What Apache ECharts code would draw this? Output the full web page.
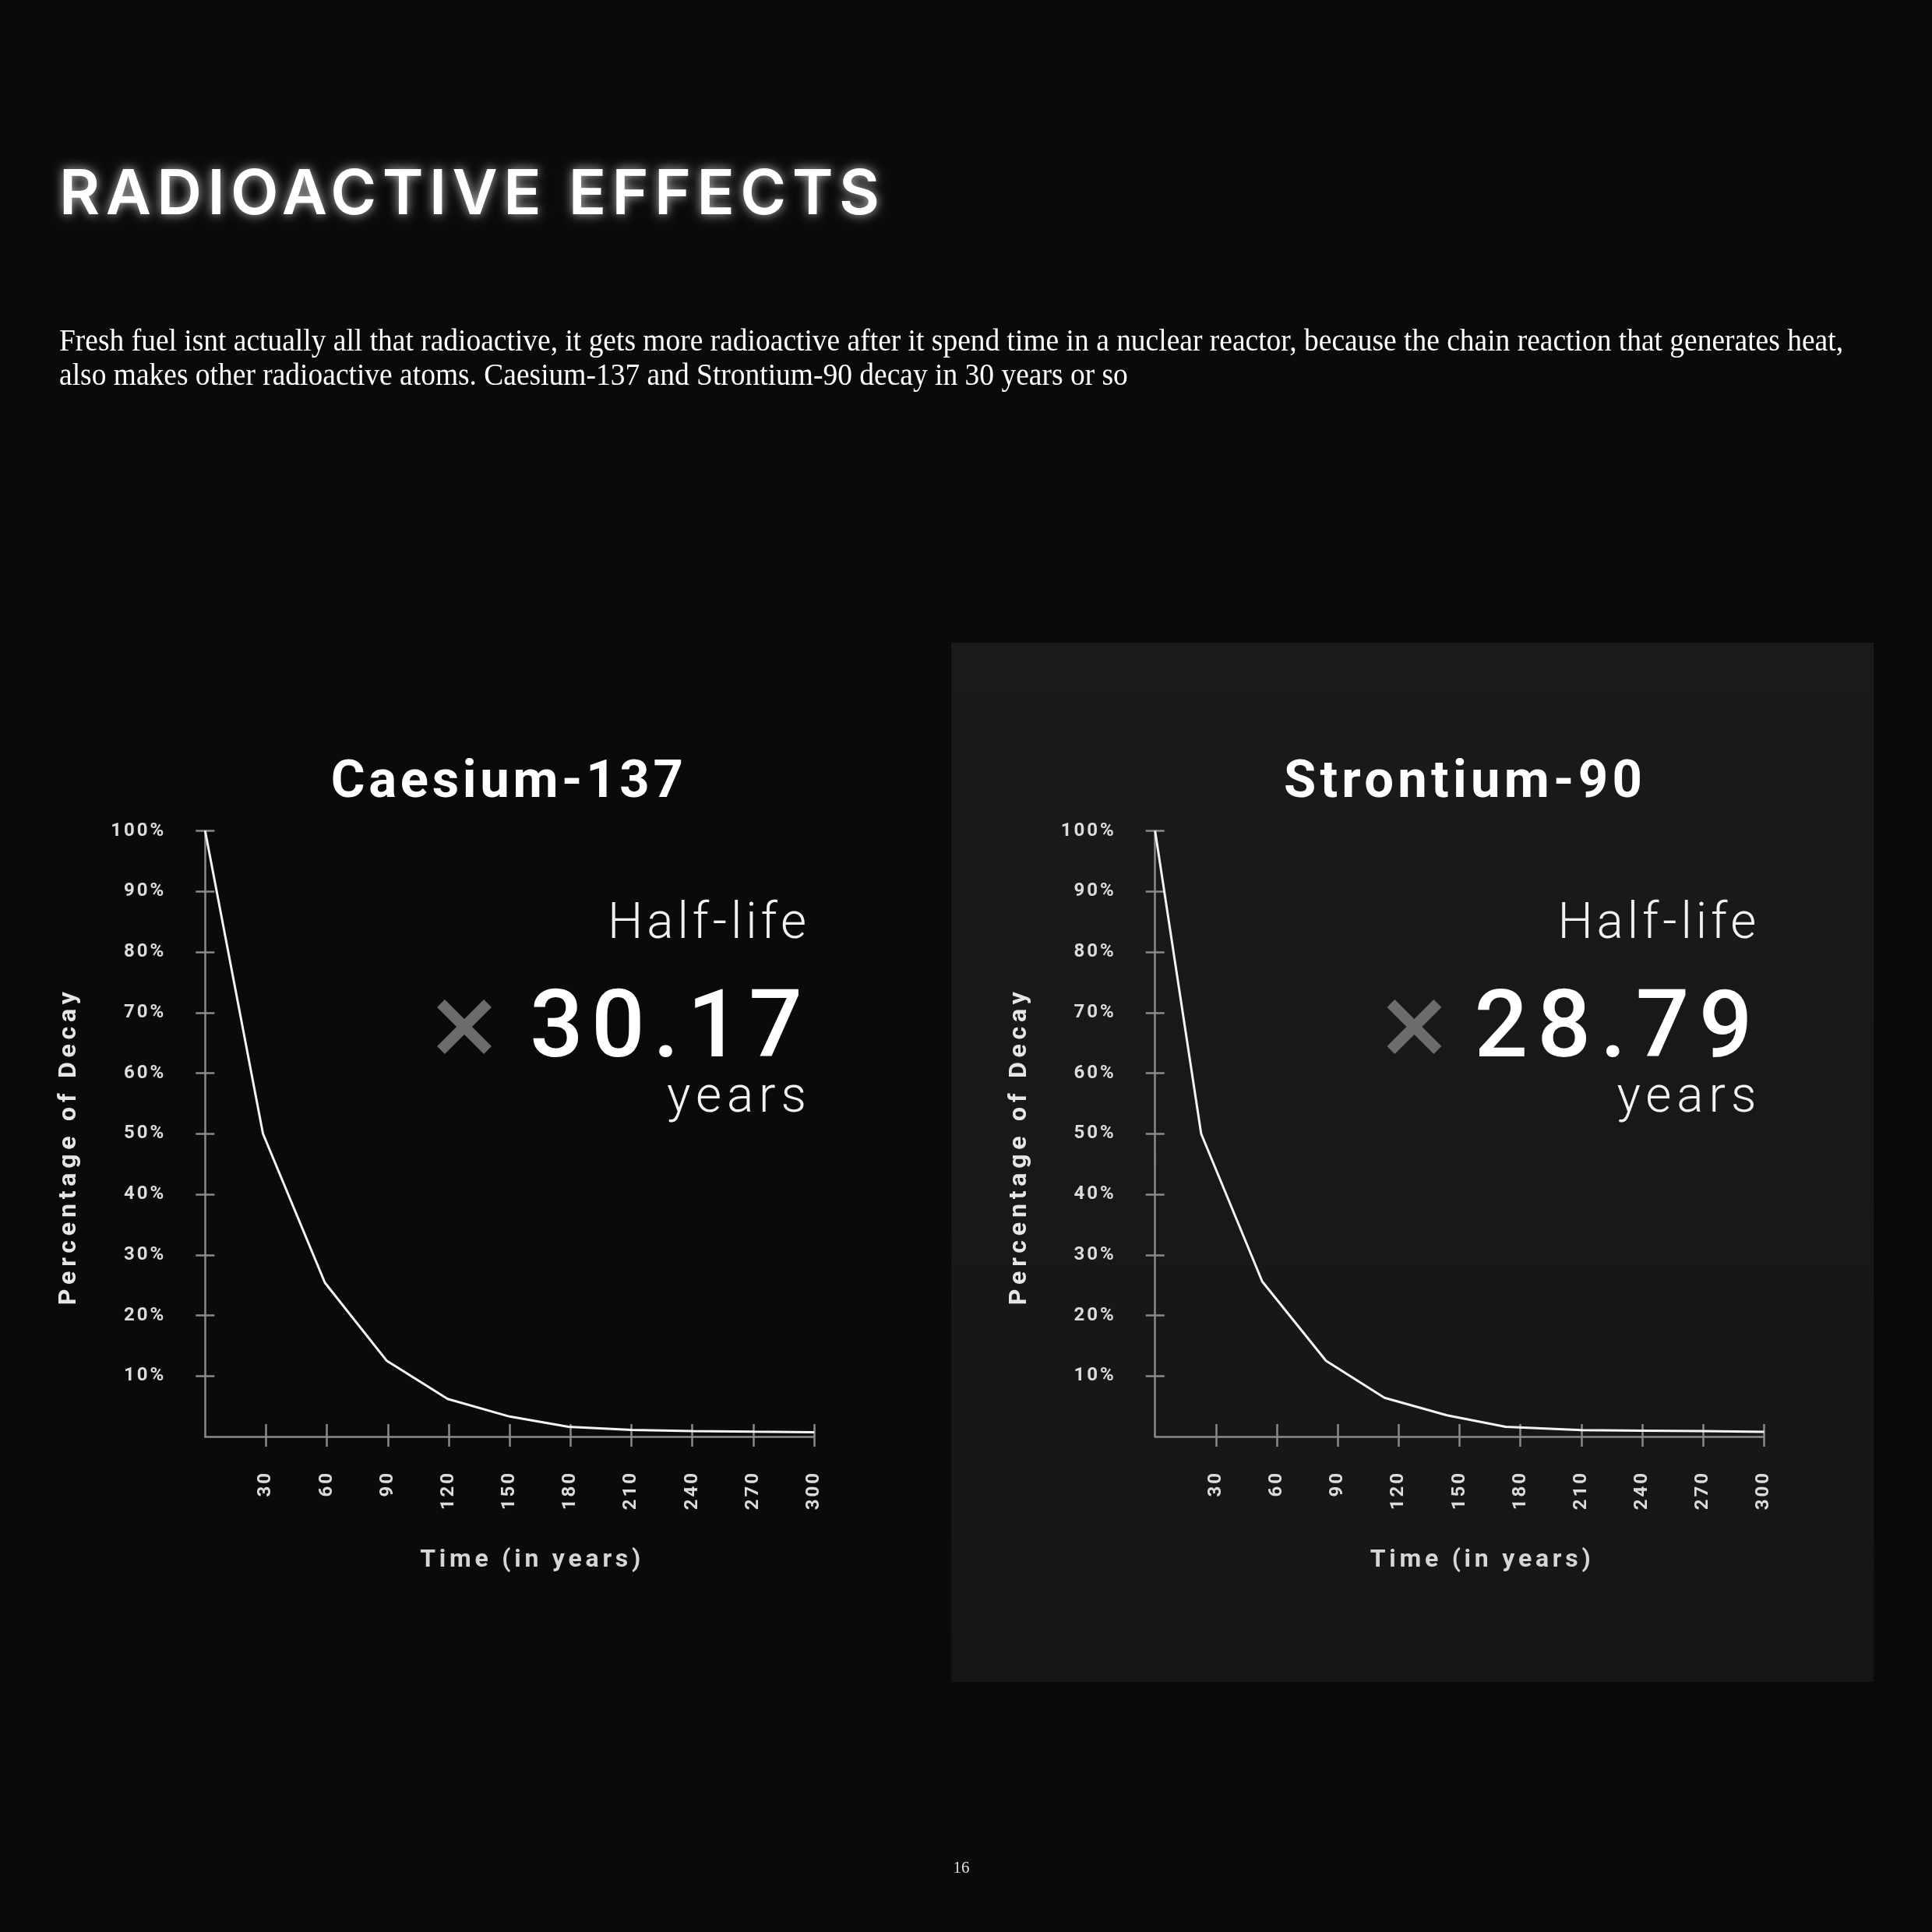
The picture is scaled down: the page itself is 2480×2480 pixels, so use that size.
<!DOCTYPE html>
<html>
<head>
<meta charset="utf-8">
<title>Radioactive Effects</title>
<script src="https://cdn.jsdelivr.net/npm/echarts@6/dist/echarts.min.js"></script>
<style>
  html, body { margin: 0; padding: 0; background: #0a0a0a; }
  #page { width: 2480px; height: 2480px; }
</style>
</head>
<body>
<div id="page"></div>
<script>
// ---- content ---------------------------------------------------------------
const heading = 'RADIOACTIVE EFFECTS';
const introLines = [
  'Fresh fuel isnt actually all that radioactive, it gets more radioactive after it spend time in a nuclear reactor, because the chain reaction that generates heat,',
  'also makes other radioactive atoms. Caesium-137 and Strontium-90 decay in 30 years or so'
];
const pageNumber = '16';

const isotopes = ['Caesium-137', 'Strontium-90'];
const halfLives = ['30.17', '28.79'];
const halfLifeLabel = 'Half-life';
const unitLabel = 'years';
const xAxisTitle = 'Time (in years)';
const yAxisTitle = 'Percentage of Decay';

const timeTicks = [30, 60, 90, 120, 150, 180, 210, 240, 270, 300];
const percentTicks = [10, 20, 30, 40, 50, 60, 70, 80, 90, 100];

const caesiumYears = [0, 28.5, 59, 89.5, 119.5, 150, 179, 210, 240, 270, 300];
const caesiumPercent = [100, 50, 25.4, 12.5, 6.2, 3.3, 1.6, 1.1, 0.9, 0.8, 0.72];

const strontiumYears = [0, 22.7, 52.8, 84.2, 113, 143.8, 172.7, 210, 240, 270, 300];
const strontiumPercent = [100, 50, 25.6, 12.5, 6.4, 3.5, 1.6, 1.07, 0.98, 0.9, 0.77];

// ---- fonts & letter spacing ------------------------------------------------
const UI = 'Roboto';
const FONT_HEADING = '600 80px Inter';
const FONT_INTRO = '40px "Liberation Serif"';
const FONT_ISOTOPE = 'bold 67px ' + UI;
const FONT_HALF = '300 64px ' + UI;
const FONT_VALUE = '500 121px ' + UI;
const FONT_UNIT = '300 64px ' + UI;
const FONT_AXIS_NAME = 'bold 32px ' + UI;

// zrender has no letter-spacing option, so tracked lettering is applied when
// the canvas draws each string; every call sets the spacing explicitly and
// re-applies the font so the context never keeps a stale value.
const tracking = new Map();
(function () {
  const proto = CanvasRenderingContext2D.prototype;
  const fill = proto.fillText;
  proto.fillText = function (text, x, y, maxWidth) {
    const sp = tracking.get(String(text)) || 0;
    const font = this.font;
    this.letterSpacing = sp + 'px';
    this.font = font;
    if (maxWidth === undefined) fill.call(this, text, x, y);
    else fill.call(this, text, x, y, maxWidth);
    this.letterSpacing = '0px';
    this.font = font;
  };
})();

const meter = document.createElement('canvas').getContext('2d');
function naturalWidth(text, font) {
  meter.letterSpacing = '0px';
  meter.font = font;
  return meter.measureText(text).width;
}
// spread a string so that it spans the given width
function spread(text, font, width) {
  const gap = (width - naturalWidth(text, font)) / Math.max(1, text.length - 1);
  tracking.set(text, Math.max(0, gap));
}
const tr = t => tracking.get(t) || 0;

spread(heading, FONT_HEADING, 1053);
spread(isotopes[0], FONT_ISOTOPE, 452);
spread(isotopes[1], FONT_ISOTOPE, 460);
spread(halfLifeLabel, FONT_HALF, 255);
spread(halfLives[0], FONT_VALUE, 350);
spread(halfLives[1], FONT_VALUE, 357);
spread(unitLabel, FONT_UNIT, 179);
spread(xAxisTitle, FONT_AXIS_NAME, 283);
spread(yAxisTitle, FONT_AXIS_NAME, 402);
timeTicks.forEach(v => tracking.set(String(v), 3));
percentTicks.forEach(v => tracking.set(v + '%', 3));

// intro paragraph is set in a narrowed serif
const introScale = 2290 / naturalWidth(introLines[0], FONT_INTRO);

// ---- layout ----------------------------------------------------------------
const GRID_TOP = 1066.5;
const GRID_H = 777.5;
const GRID_W = 781.7;
const GRID_LEFTS = [263.3, 1482.7];
const AXIS_GREY = '#8a8a8a';
const LABEL_GREY = '#dcdcdc';

const panels = [
  { name: isotopes[0], halfLife: halfLives[0], years: caesiumYears, percent: caesiumPercent },
  { name: isotopes[1], halfLife: halfLives[1], years: strontiumYears, percent: strontiumPercent }
];

const grids = [], xAxes = [], yAxes = [], series = [], titles = [], graphics = [];

// darker-grey card behind the second chart
graphics.push({
  type: 'rect', z: -1,
  shape: { x: 1221, y: 825, width: 1184, height: 1334 },
  style: {
    fill: new echarts.graphic.LinearGradient(0, 0, 0, 1, [
      { offset: 0, color: '#1a1a1a' },
      { offset: 1, color: '#161616' }
    ])
  }
});

graphics.push({
  type: 'text', x: 76, y: 251,
  style: {
    text: heading, font: FONT_HEADING, fill: '#ffffff',
    align: 'left', verticalAlign: 'middle', textAlign: 'left', textVerticalAlign: 'middle',
    textShadowBlur: 14, textShadowColor: 'rgba(255,255,255,0.75)'
  }
});

introLines.forEach((line, i) => {
  graphics.push({
    type: 'text', x: 76, y: 439 + i * 44.5, scaleX: introScale,
    style: {
      text: line, font: FONT_INTRO, fill: '#ffffff',
      align: 'left', verticalAlign: 'middle', textAlign: 'left', textVerticalAlign: 'middle'
    }
  });
});

graphics.push({
  type: 'text', x: 1234, y: 2398,
  style: {
    text: pageNumber, font: '21px "Liberation Serif"', fill: '#e0e0e0',
    align: 'center', verticalAlign: 'middle', textAlign: 'center', textVerticalAlign: 'middle'
  }
});

function textEl(text, font, right, y, fill) {
  return {
    type: 'text', x: right + tr(text), y: y,
    style: {
      text: text, font: font, fill: fill,
      align: 'right', verticalAlign: 'middle', textAlign: 'right', textVerticalAlign: 'middle'
    }
  };
}

panels.forEach((p, i) => {
  const left = GRID_LEFTS[i];
  const right = left + GRID_W;

  grids.push({ left: left, top: GRID_TOP, width: GRID_W, height: GRID_H, outerBoundsMode: 'none' });

  titles.push({
    text: p.name,
    left: left + GRID_W / 2 + (i === 0 ? -1 : 7),
    top: 973,
    padding: 0,
    textAlign: 'center',
    textStyle: { color: '#ffffff', fontFamily: UI, fontWeight: 'bold', fontSize: 67 }
  });

  // main time axis: line, downward ticks, rotated labels, title
  xAxes.push({
    gridIndex: i, type: 'value', min: 0, max: 300, interval: 30, position: 'bottom',
    axisLine: { show: true, onZero: false, lineStyle: { color: AXIS_GREY, width: 2.5 } },
    axisTick: { show: true, inside: false, length: 13, customValues: timeTicks,
                lineStyle: { color: AXIS_GREY, width: 2.5 } },
    axisLabel: { show: true, rotate: 90, margin: 44, customValues: timeTicks,
                 color: LABEL_GREY, fontFamily: UI, fontWeight: 'bold', fontSize: 24 },
    splitLine: { show: false },
    name: xAxisTitle, nameLocation: 'middle', nameGap: 143,
    nameTextStyle: { color: '#d6d6d6', fontFamily: UI, fontWeight: 'bold', fontSize: 32,
                     padding: [0, 0, 0, 58] }
  });
  // companion time axis: upward half of the cross ticks
  xAxes.push({
    gridIndex: i, type: 'value', min: 0, max: 300, interval: 30, position: 'bottom',
    axisLine: { show: false, onZero: false },
    axisTick: { show: true, inside: true, length: 16, customValues: timeTicks,
                lineStyle: { color: AXIS_GREY, width: 2.5 } },
    axisLabel: { show: false },
    splitLine: { show: false }
  });

  yAxes.push({
    gridIndex: i, type: 'value', min: 0, max: 100, interval: 10, position: 'left',
    axisLine: { show: true, onZero: false, lineStyle: { color: AXIS_GREY, width: 2.5 } },
    axisTick: { show: true, inside: false, length: 12, customValues: percentTicks,
                lineStyle: { color: AXIS_GREY, width: 2.5 } },
    axisLabel: { show: true, margin: 50, customValues: percentTicks, formatter: '{value}%',
                 color: LABEL_GREY, fontFamily: UI, fontWeight: 'bold', fontSize: 24 },
    splitLine: { show: false },
    name: yAxisTitle, nameLocation: 'middle', nameRotate: 90, nameGap: 158,
    nameTextStyle: { color: '#e6e6e6', fontFamily: UI, fontWeight: 'bold', fontSize: 32,
                     padding: [0, 32, 0, 0] }
  });
  yAxes.push({
    gridIndex: i, type: 'value', min: 0, max: 100, interval: 10, position: 'left',
    axisLine: { show: false, onZero: false },
    axisTick: { show: true, inside: true, length: 12, customValues: percentTicks,
                lineStyle: { color: AXIS_GREY, width: 2.5 } },
    axisLabel: { show: false },
    splitLine: { show: false }
  });

  series.push({
    name: p.name, type: 'line',
    xAxisIndex: i * 2, yAxisIndex: i * 2,
    data: p.years.map((t, k) => [t, p.percent[k]]),
    showSymbol: false, smooth: false, clip: false,
    lineStyle: { color: '#f4f4f4', width: 3 },
    z: 3
  });

  // half-life callout
  const textRight = right - 10;
  graphics.push(textEl(halfLifeLabel, FONT_HALF, textRight, 1188, '#f2f2f2'));
  graphics.push(textEl(p.halfLife, FONT_VALUE, textRight - 5, 1326, '#ffffff'));
  graphics.push(textEl(unitLabel, FONT_UNIT, textRight, 1410.5, '#f2f2f2'));

  const cx = left + 332.7, cy = 1318, arm = 30;
  const crossStyle = { stroke: '#6c6c6c', lineWidth: 14, lineCap: 'butt' };
  graphics.push({ type: 'line', shape: { x1: cx - arm, y1: cy - arm, x2: cx + arm, y2: cy + arm }, style: crossStyle });
  graphics.push({ type: 'line', shape: { x1: cx + arm, y1: cy - arm, x2: cx - arm, y2: cy + arm }, style: crossStyle });
});

const chart = echarts.init(document.getElementById('page'), null, {
  renderer: 'canvas', width: 2480, height: 2480, devicePixelRatio: 1
});

chart.setOption({
  backgroundColor: '#0a0a0a',
  animation: false,
  textStyle: { fontFamily: UI },
  title: titles,
  grid: grids,
  xAxis: xAxes,
  yAxis: yAxes,
  series: series,
  graphic: { elements: graphics }
});
</script>
</body>
</html>
